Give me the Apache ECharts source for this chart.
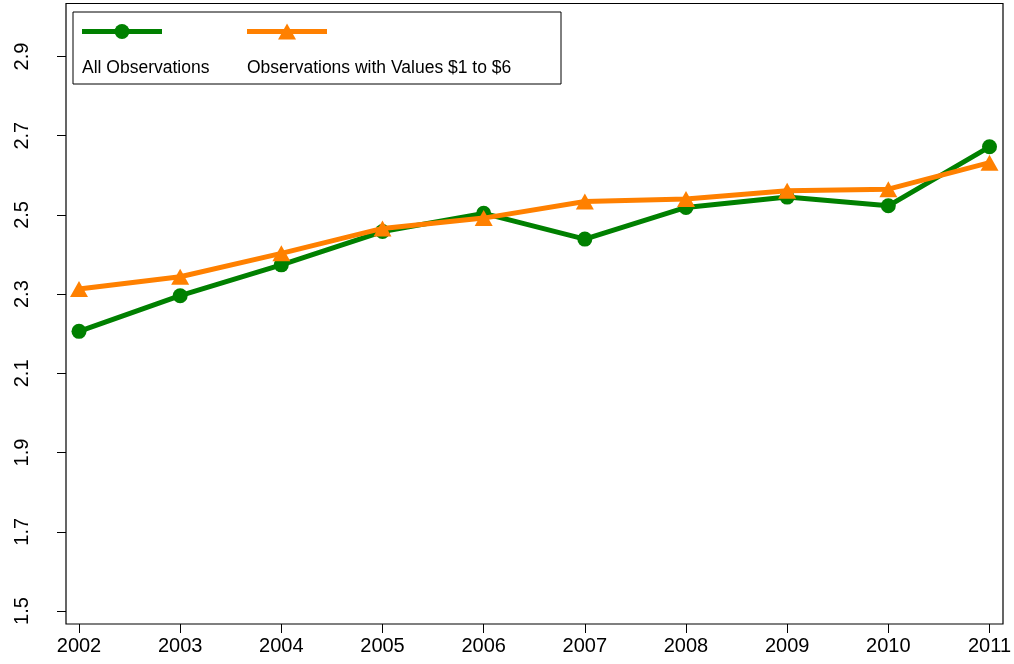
<!DOCTYPE html>
<html>
<head>
<meta charset="utf-8">
<script src="https://cdn.jsdelivr.net/npm/echarts@6/dist/echarts.min.js"></script>
<style>
html,body{margin:0;padding:0;background:#fff;}
#c{width:1014px;height:664px;}
</style>
</head>
<body>
<div id="c"></div>
<script>
var years = ['2002','2003','2004','2005','2006','2007','2008','2009','2010','2011'];
var allObs = [2.206, 2.296, 2.374, 2.458, 2.504, 2.439, 2.519, 2.545, 2.523, 2.672];
var obs1to6 = [2.313, 2.344, 2.403, 2.466, 2.492, 2.534, 2.540, 2.561, 2.565, 2.632];
var seriesNames = ['All Observations', 'Observations with Values $1 to $6'];
var yTicks = [1.5, 1.7, 1.9, 2.1, 2.3, 2.5, 2.7, 2.9];

var GREEN = '#008000', ORANGE = '#FF8000';
var FONT = 'Liberation Sans, Arial, sans-serif';

var chart = echarts.init(document.getElementById('c'), null, {renderer: 'canvas'});
var option = {
  animation: false,
  backgroundColor: '#fff',
  grid: [
    {left: 79, right: 24, top: 56.5, bottom: 53, show: false},
    {left: 66, right: 11, top: 3.5, bottom: 40, show: true, borderColor: '#000', borderWidth: 1.2, backgroundColor: 'transparent', z: 1}
  ],
  xAxis: [
    {
      type: 'category', gridIndex: 0, data: years, boundaryGap: false,
      offset: 13,
      axisLine: {show: false},
      axisTick: {show: true, length: 9, lineStyle: {color: '#000', width: 1}},
      axisLabel: {color: '#000', fontSize: 20, fontFamily: FONT, margin: 12},
      splitLine: {show: false}
    },
    {type: 'value', gridIndex: 1, show: false}
  ],
  yAxis: [
    {
      type: 'value', gridIndex: 0, min: yTicks[0], max: yTicks[yTicks.length - 1], interval: 0.2,
      offset: 13,
      axisLine: {show: false},
      axisTick: {show: true, length: 9, lineStyle: {color: '#000', width: 1}},
      axisLabel: {color: '#000', fontSize: 20, fontFamily: FONT, rotate: 90, margin: 34,
        formatter: function (v) { return v.toFixed(1); }},
      splitLine: {show: false}
    },
    {type: 'value', gridIndex: 1, show: false}
  ],
  series: [
    {
      name: seriesNames[0], type: 'line', xAxisIndex: 0, yAxisIndex: 0, data: allObs,
      symbol: 'circle', symbolSize: 15,
      lineStyle: {color: GREEN, width: 5},
      itemStyle: {color: GREEN},
      z: 3
    },
    {
      name: seriesNames[1], type: 'line', xAxisIndex: 0, yAxisIndex: 0, data: obs1to6,
      symbol: 'triangle', symbolSize: [18, 16],
      lineStyle: {color: ORANGE, width: 5},
      itemStyle: {color: ORANGE},
      z: 4
    }
  ],
  graphic: [
    {type: 'rect', left: 72.5, top: 11.5, shape: {width: 488, height: 72},
      style: {fill: '#fff', stroke: '#000', lineWidth: 1}, z: 10},
    {type: 'line', shape: {x1: 82, y1: 31.5, x2: 162, y2: 31.5}, style: {stroke: GREEN, lineWidth: 5}, z: 11},
    {type: 'circle', shape: {cx: 122, cy: 31.5, r: 7.5}, style: {fill: GREEN}, z: 12},
    {type: 'line', shape: {x1: 247, y1: 31.5, x2: 327, y2: 31.5}, style: {stroke: ORANGE, lineWidth: 5}, z: 11},
    {type: 'polygon', shape: {points: [[287, 23.5], [278, 39.5], [296, 39.5]]}, style: {fill: ORANGE}, z: 12},
    {type: 'text', x: 82, y: 68, style: {text: seriesNames[0], fill: '#000', font: '17.5px ' + FONT, textVerticalAlign: 'middle', verticalAlign: 'middle'}, z: 12},
    {type: 'text', x: 247, y: 68, style: {text: seriesNames[1], fill: '#000', font: '17.5px ' + FONT, textVerticalAlign: 'middle', verticalAlign: 'middle'}, z: 12}
  ]
};
chart.setOption(option);
</script>
</body>
</html>
